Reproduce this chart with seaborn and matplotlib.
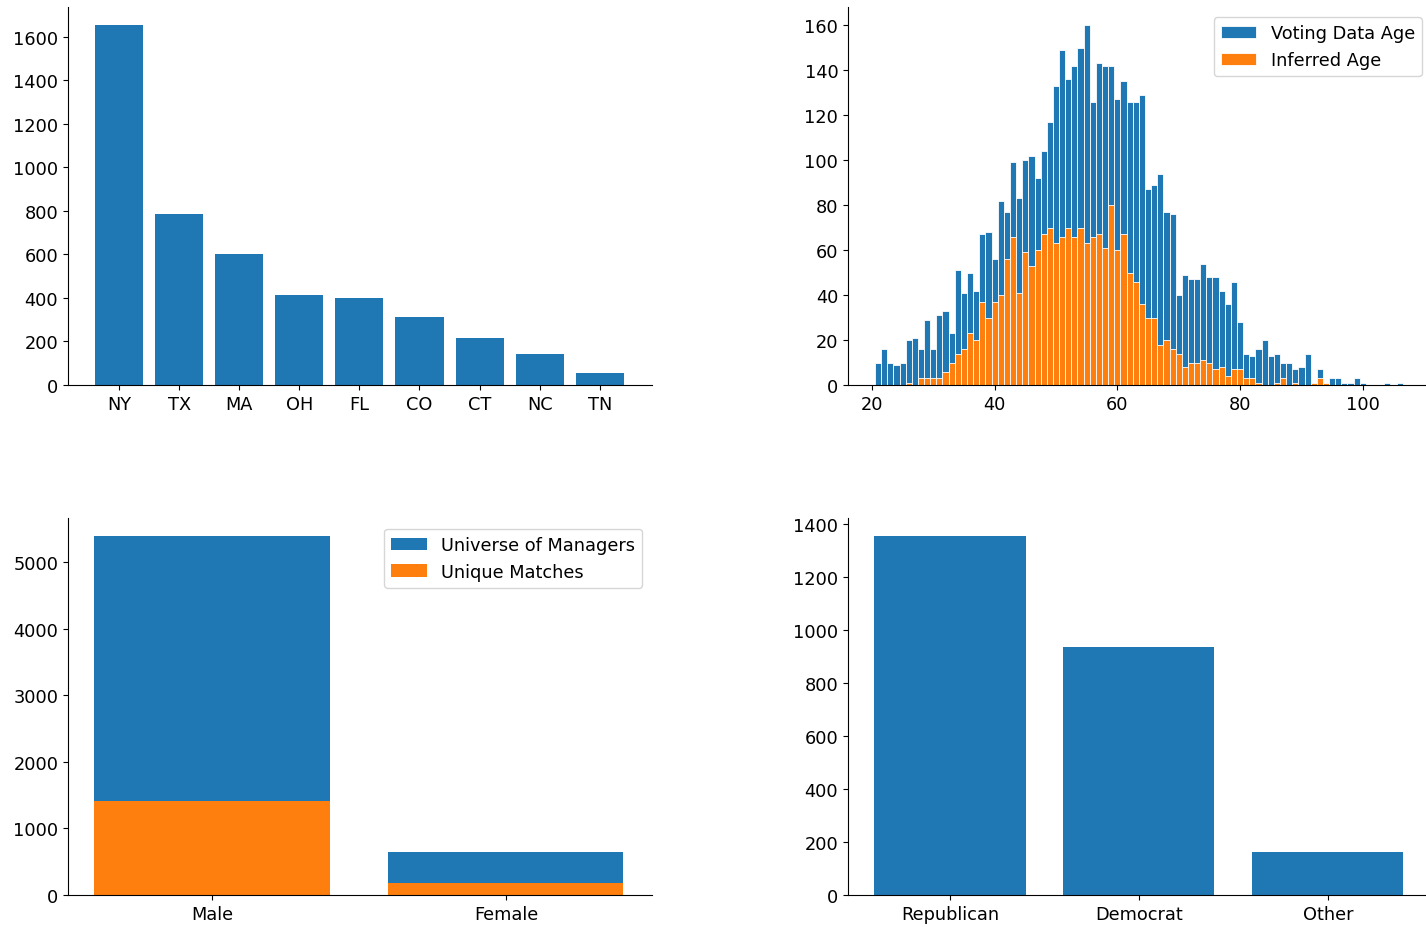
import matplotlib
matplotlib.use("Agg")
import matplotlib.pyplot as plt
import seaborn as sns
import pandas as pd

# --- Managers by state ---
states = ["NY", "TX", "MA", "OH", "FL", "CO", "CT", "NC", "TN"]
state_counts = [1655, 785, 600, 416, 401, 313, 218, 144, 55]

# --- Age distribution (counts per year of age) ---
voting_ages = list(range(21, 107))
voting_counts = [
    10, 16, 10, 9, 10, 20, 21, 16, 29, 16,      # 21-30
    31, 33, 23, 51, 41, 50, 42, 67, 68, 56,     # 31-40
    82, 77, 99, 83, 100, 102, 92, 104, 117, 133,  # 41-50
    149, 136, 142, 150, 160, 126, 143, 142, 142, 127,  # 51-60
    135, 126, 126, 129, 87, 89, 94, 77, 76, 40,  # 61-70
    49, 47, 47, 54, 48, 48, 42, 36, 46, 28,     # 71-80
    14, 13, 16, 20, 13, 14, 10, 10, 7, 8,       # 81-90
    14, 1, 7, 0, 3, 3, 1, 1, 3, 1,              # 91-100
    0, 0, 0, 1, 0, 1,                           # 101-106
]
inferred_ages = list(range(26, 95))
inferred_counts = [
    1, 0, 3, 3, 3,                              # 26-30
    3, 6, 10, 14, 16, 23, 20, 37, 30, 37,       # 31-40
    40, 56, 66, 41, 59, 53, 60, 67, 70, 63,     # 41-50
    66, 70, 66, 70, 63, 66, 67, 61, 80, 60,     # 51-60
    67, 50, 46, 36, 30, 30, 18, 20, 16, 14,     # 61-70
    8, 10, 10, 11, 10, 7, 8, 4, 7, 7,           # 71-80
    3, 3, 1, 0, 0, 1, 3, 0, 1, 0,               # 81-90
    0, 1, 3, 1,                                 # 91-94
]

# --- Gender ---
genders = ["Male", "Female"]
universe_counts = [5390, 648]
match_counts = [1411, 182]

# --- Party ---
parties = ["Republican", "Democrat", "Other"]
party_counts = [1355, 936, 163]

BLUE = "#1f77b4"
ORANGE = "#ff7f0e"
FS = 12.8

plt.rcParams["font.family"] = ["DejaVu Sans"]
plt.rcParams["font.size"] = FS

fig = plt.figure(figsize=(14.26, 9.28), dpi=100)
W, H = 1426, 928


def axes_px(x0, y0, x1, y1):
    return fig.add_axes([x0 / W, 1 - y1 / H, (x1 - x0) / W, (y1 - y0) / H])


ax1 = axes_px(68, 8, 652, 386)
ax2 = axes_px(848, 8, 1426, 386)
ax3 = axes_px(68, 519, 652, 896)
ax4 = axes_px(848, 519, 1426, 896)

# Top-left: state counts
df_state = pd.DataFrame({"state": states, "count": state_counts})
sns.barplot(data=df_state, x="state", y="count", color=BLUE, saturation=1,
            width=0.8, ax=ax1)
ax1.set_xlim(-0.85, 8.87)
ax1.set_ylim(0, 1655 * 1.05)
ax1.set_yticks(range(0, 1601, 200))

# Top-right: age histograms
df_vote = pd.DataFrame({"age": voting_ages, "n": voting_counts})
df_inf = pd.DataFrame({"age": inferred_ages, "n": inferred_counts})
sns.histplot(data=df_vote, x="age", weights="n", discrete=True, color=BLUE,
             alpha=1, edgecolor="white", linewidth=0.6, label="Voting Data Age",
             ax=ax2)
sns.histplot(data=df_inf, x="age", weights="n", discrete=True, color=ORANGE,
             alpha=1, edgecolor="white", linewidth=0.6, label="Inferred Age",
             ax=ax2)
ax2.set_xlim(16.1, 110.3)
ax2.set_ylim(0, 168)
ax2.set_xticks([20, 40, 60, 80, 100])
ax2.set_yticks(range(0, 161, 20))
ax2.legend(loc="upper right", fontsize=FS, borderaxespad=0,
           bbox_to_anchor=(0.993, 0.9735))

# Bottom-left: gender, matches overlaid on universe
df_gender = pd.DataFrame({"gender": genders, "universe": universe_counts,
                          "matches": match_counts})
sns.barplot(data=df_gender, x="gender", y="universe", color=BLUE, saturation=1,
            width=0.8, label="Universe of Managers", ax=ax3)
sns.barplot(data=df_gender, x="gender", y="matches", color=ORANGE, saturation=1,
            width=0.8, label="Unique Matches", ax=ax3)
ax3.set_xlim(-0.49, 1.497)
ax3.set_ylim(0, 5390 * 1.05)
ax3.set_yticks(range(0, 5001, 1000))
ax3.legend(loc="upper right", fontsize=FS, borderaxespad=0,
           bbox_to_anchor=(0.983, 0.971))

# Bottom-right: party
df_party = pd.DataFrame({"party": parties, "count": party_counts})
sns.barplot(data=df_party, x="party", y="count", color=BLUE, saturation=1,
            width=0.8, ax=ax4)
ax4.set_xlim(-0.54, 2.52)
ax4.set_ylim(0, 1355 * 1.05)
ax4.set_yticks(range(0, 1401, 200))

for ax in (ax1, ax2, ax3, ax4):
    ax.set_xlabel("")
    ax.set_ylabel("")
    ax.tick_params(labelsize=FS)
    sns.despine(ax=ax)

fig.savefig("out.png", dpi=100)
